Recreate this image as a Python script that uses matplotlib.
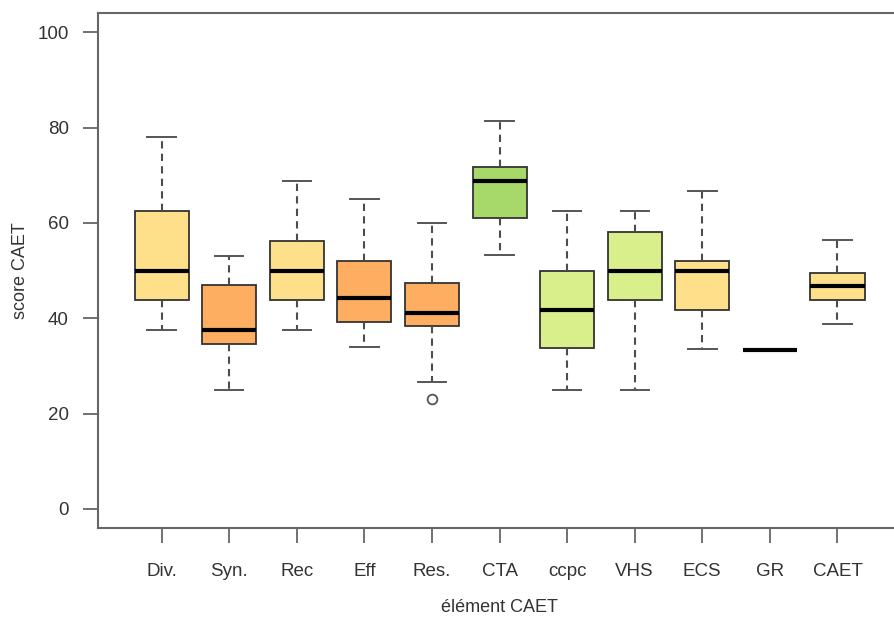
import matplotlib
matplotlib.use("Agg")
import matplotlib.pyplot as plt

# box statistics
labels = ["Div.", "Syn.", "Rec", "Eff", "Res.", "CTA", "ccpc", "VHS", "ECS", "GR", "CAET"]
whislo = [37.5, 25.0, 37.5, 34.0, 26.6, 53.3, 25.0, 25.0, 33.6, 33.4, 38.8]
q1 = [43.75, 34.7, 43.75, 39.3, 38.3, 61.1, 33.7, 43.8, 41.75, 33.4, 43.8]
med = [50.0, 37.5, 50.0, 44.3, 41.1, 68.8, 41.8, 50.0, 50.0, 33.4, 46.8]
q3 = [62.5, 46.9, 56.25, 52.0, 47.5, 71.8, 50.0, 58.2, 52.0, 33.4, 49.5]
whishi = [78.1, 53.1, 68.75, 65.0, 60.0, 81.3, 62.5, 62.5, 66.8, 33.4, 56.4]
fliers = [[], [], [], [], [23.1], [], [], [], [], [], []]
colors = ["#FEE08B", "#FDAE61", "#FEE08B", "#FDAE61", "#FDAE61", "#A6D96A",
          "#D9EF8B", "#D9EF8B", "#FEE08B", "#FEE08B", "#FEE08B"]

plt.rcParams['font.family'] = ['Liberation Sans', 'DejaVu Sans']

stats = []
for i in range(len(labels)):
    stats.append(dict(label=labels[i], whislo=whislo[i], q1=q1[i], med=med[i],
                      q3=q3[i], whishi=whishi[i], fliers=fliers[i]))

fig = plt.figure(figsize=(8.94, 6.2), dpi=100)
# frame runs past the right edge of the picture, like the reference
ax = fig.add_axes([98/894, 1-528/620, 803/894, (528-13.3)/620])

pos = list(range(1, len(labels) + 1))
bp = ax.bxp(stats, positions=pos, widths=0.8, capwidths=0.42, patch_artist=True,
            boxprops=dict(edgecolor="#333333", linewidth=1.3),
            medianprops=dict(color="black", linewidth=3, solid_capstyle="butt"),
            whiskerprops=dict(color="#4d4d4d", linestyle=(0, (3.5, 2.5)), linewidth=1.5),
            capprops=dict(color="#555555", linewidth=1.4),
            flierprops=dict(marker="o", markerfacecolor="none", markeredgecolor="#555555",
                            markersize=7, markeredgewidth=1.3))
for patch, c in zip(bp["boxes"], colors):
    patch.set_facecolor(c)

ax.set_xlim(0.058, 11.94)
ax.set_ylim(-4, 104)
ax.set_yticks([0, 20, 40, 60, 80, 100])
ax.set_xticks(pos)
ax.set_xticklabels(labels)

for s in ax.spines.values():
    s.set_color("#666666")
    s.set_linewidth(1.5)
ax.tick_params(axis="both", direction="out", length=11, width=1.3, color="#666666",
               labelsize=13.5, labelcolor="#333333", pad=10)
ax.tick_params(axis="x", pad=14)

ax.set_ylabel("score CAET", fontsize=13, color="#333333", va="center")
ax.set_xlabel("élément CAET", fontsize=13, color="#333333", va="center")
ax.yaxis.set_label_coords((21 - 98) / 803, 0.5)
ax.xaxis.set_label_coords(0.5, -(607 - 528) / (528 - 13.3))

fig.savefig("out.png", dpi=100)
